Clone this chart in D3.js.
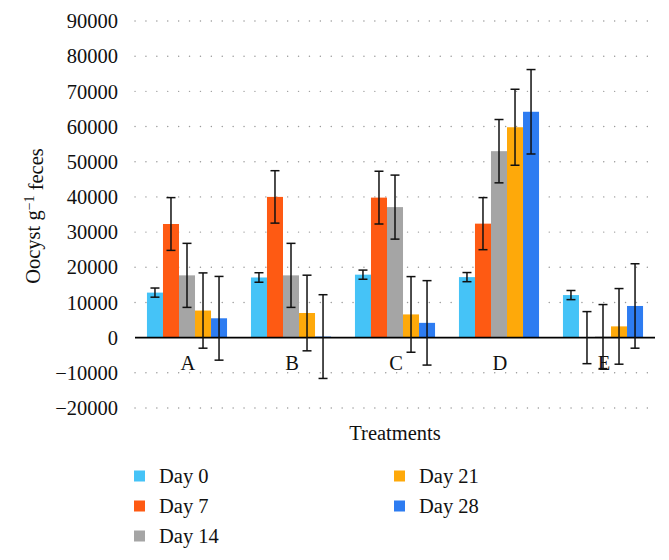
<!DOCTYPE html>
<html>
<head>
<meta charset="utf-8">
<script src="https://cdn.jsdelivr.net/npm/d3@7"></script>
<style>
  body { margin: 0; background: #fff; }
  svg, text, tspan { font-family: "Liberation Serif", "DejaVu Serif", serif; }
  text { fill: #111; }
</style>
</head>
<body>
<div id="chart"></div>
<script>
// treatments on the x axis
var treatments = ["A", "B", "C", "D", "E"];
// sampling days (series)
var days = ["Day 0", "Day 7", "Day 14", "Day 21", "Day 28"];
var dayColors = ["#45c3f7", "#fe5a13", "#a5a5a5", "#fea90a", "#2d7cf1"];

// mean oocyst counts, one array per day, in treatment order
var day0  = [12800, 17100, 17900, 17200, 12100];
var day7  = [32300, 40000, 39800, 32400, 0];
var day14 = [17700, 17700, 37100, 53000, 300];
var day21 = [7700, 7000, 6600, 59800, 3200];
var day28 = [5500, 300, 4200, 64200, 9000];

// error bar half-widths
var err0  = [1300, 1350, 1300, 1300, 1300];
var err7  = [7500, 7450, 7500, 7400, 7400];
var err14 = [9100, 9100, 9100, 9000, 9100];
var err21 = [10700, 10750, 10750, 10800, 10750];
var err28 = [11900, 11900, 12000, 12000, 12000];

var yTicks = [-20000, -10000, 0, 10000, 20000, 30000, 40000, 50000, 60000, 70000, 80000, 90000];

var means = [day0, day7, day14, day21, day28];
var errs = [err0, err7, err14, err21, err28];

var width = 669, height = 560;

var svg = d3.select("#chart").append("svg")
    .attr("width", width)
    .attr("height", height)
    .attr("font-family", "Liberation Serif, DejaVu Serif, serif");

var x = d3.scaleBand()
    .domain(treatments)
    .range([135, 655])
    .paddingInner(0.23)
    .paddingOuter(0.115);

var xInner = d3.scaleBand()
    .domain(days)
    .range([0, x.bandwidth()]);

var y = d3.scaleLinear()
    .domain([-20000, 90000])
    .range([408, 21]);

// dotted gridlines
svg.append("g")
  .selectAll("line")
    .data(yTicks.filter(function(d) { return d !== 0; }))
  .enter().append("line")
    .attr("x1", 135)
    .attr("x2", 655)
    .attr("y1", function(d) { return y(d); })
    .attr("y2", function(d) { return y(d); })
    .attr("stroke", "#9a9a9a")
    .attr("stroke-width", 1.4)
    .attr("stroke-linecap", "round")
    .attr("stroke-dasharray", "0.1 10.8");

// y tick labels
svg.append("g")
  .selectAll("text")
    .data(yTicks)
  .enter().append("text")
    .attr("x", 118)
    .attr("y", function(d) { return y(d); })
    .attr("dy", "0.35em")
    .attr("text-anchor", "end")
    .style("font-size", "20.5px")
    .text(function(d) { return d3.format("d")(d); });

// rows of bar data
var rows = [];
days.forEach(function(day, i) {
  treatments.forEach(function(t, j) {
    rows.push({ treatment: t, day: day, color: dayColors[i], value: means[i][j], err: errs[i][j] });
  });
});

var bars = svg.append("g");

bars.selectAll("rect")
    .data(rows)
  .enter().append("rect")
    .attr("x", function(d) { return x(d.treatment) + xInner(d.day); })
    .attr("width", xInner.bandwidth())
    .attr("y", function(d) { return y(Math.max(0, d.value)); })
    .attr("height", function(d) { return Math.abs(y(d.value) - y(0)); })
    .attr("fill", function(d) { return d.color; });

// zero line
svg.append("line")
    .attr("x1", 135)
    .attr("x2", 655)
    .attr("y1", y(0))
    .attr("y2", y(0))
    .attr("stroke", "#000")
    .attr("stroke-width", 1.6);

// error bars
var eb = svg.append("g")
    .attr("stroke", "#111")
    .attr("stroke-width", 1.5);

rows.forEach(function(d) {
  var cx = x(d.treatment) + xInner(d.day) + xInner.bandwidth() / 2;
  var top = y(d.value + d.err), bot = y(d.value - d.err);
  eb.append("line").attr("x1", cx).attr("x2", cx).attr("y1", top).attr("y2", bot);
  eb.append("line").attr("x1", cx - 4.5).attr("x2", cx + 4.5).attr("y1", top).attr("y2", top);
  eb.append("line").attr("x1", cx - 4.5).attr("x2", cx + 4.5).attr("y1", bot).attr("y2", bot);
});

// category labels
svg.append("g")
  .selectAll("text")
    .data(treatments)
  .enter().append("text")
    .attr("x", function(d) { return x(d) + x.bandwidth() / 2 + 1; })
    .attr("y", 370)
    .attr("text-anchor", "middle")
    .style("font-size", "20.5px")
    .text(function(d) { return d; });

// axis titles
svg.append("text")
    .attr("x", 395)
    .attr("y", 440)
    .attr("text-anchor", "middle")
    .style("font-size", "20.5px")
    .text("Treatments");

var yt = svg.append("text")
    .attr("transform", "translate(40,216) rotate(-90)")
    .attr("text-anchor", "middle")
    .style("font-size", "20.5px");
yt.append("tspan").text("Oocyst g");
yt.append("tspan").attr("dy", "-0.45em").style("font-size", "14px").text("\u22121");
yt.append("tspan").attr("dy", "0.45em").text(" feces");

// legend
var legendPos = [[134, 476], [134, 506], [134, 536], [394, 476], [394, 506]];
var lg = svg.append("g")
  .selectAll("g")
    .data(days)
  .enter().append("g")
    .attr("transform", function(d, i) { return "translate(" + legendPos[i][0] + "," + legendPos[i][1] + ")"; });

lg.append("rect")
    .attr("x", 0)
    .attr("y", -5.5)
    .attr("width", 11)
    .attr("height", 11)
    .attr("fill", function(d, i) { return dayColors[i]; });

lg.append("text")
    .attr("x", 25)
    .attr("dy", "0.35em")
    .style("font-size", "20.5px")
    .text(function(d) { return d; });
</script>
</body>
</html>
